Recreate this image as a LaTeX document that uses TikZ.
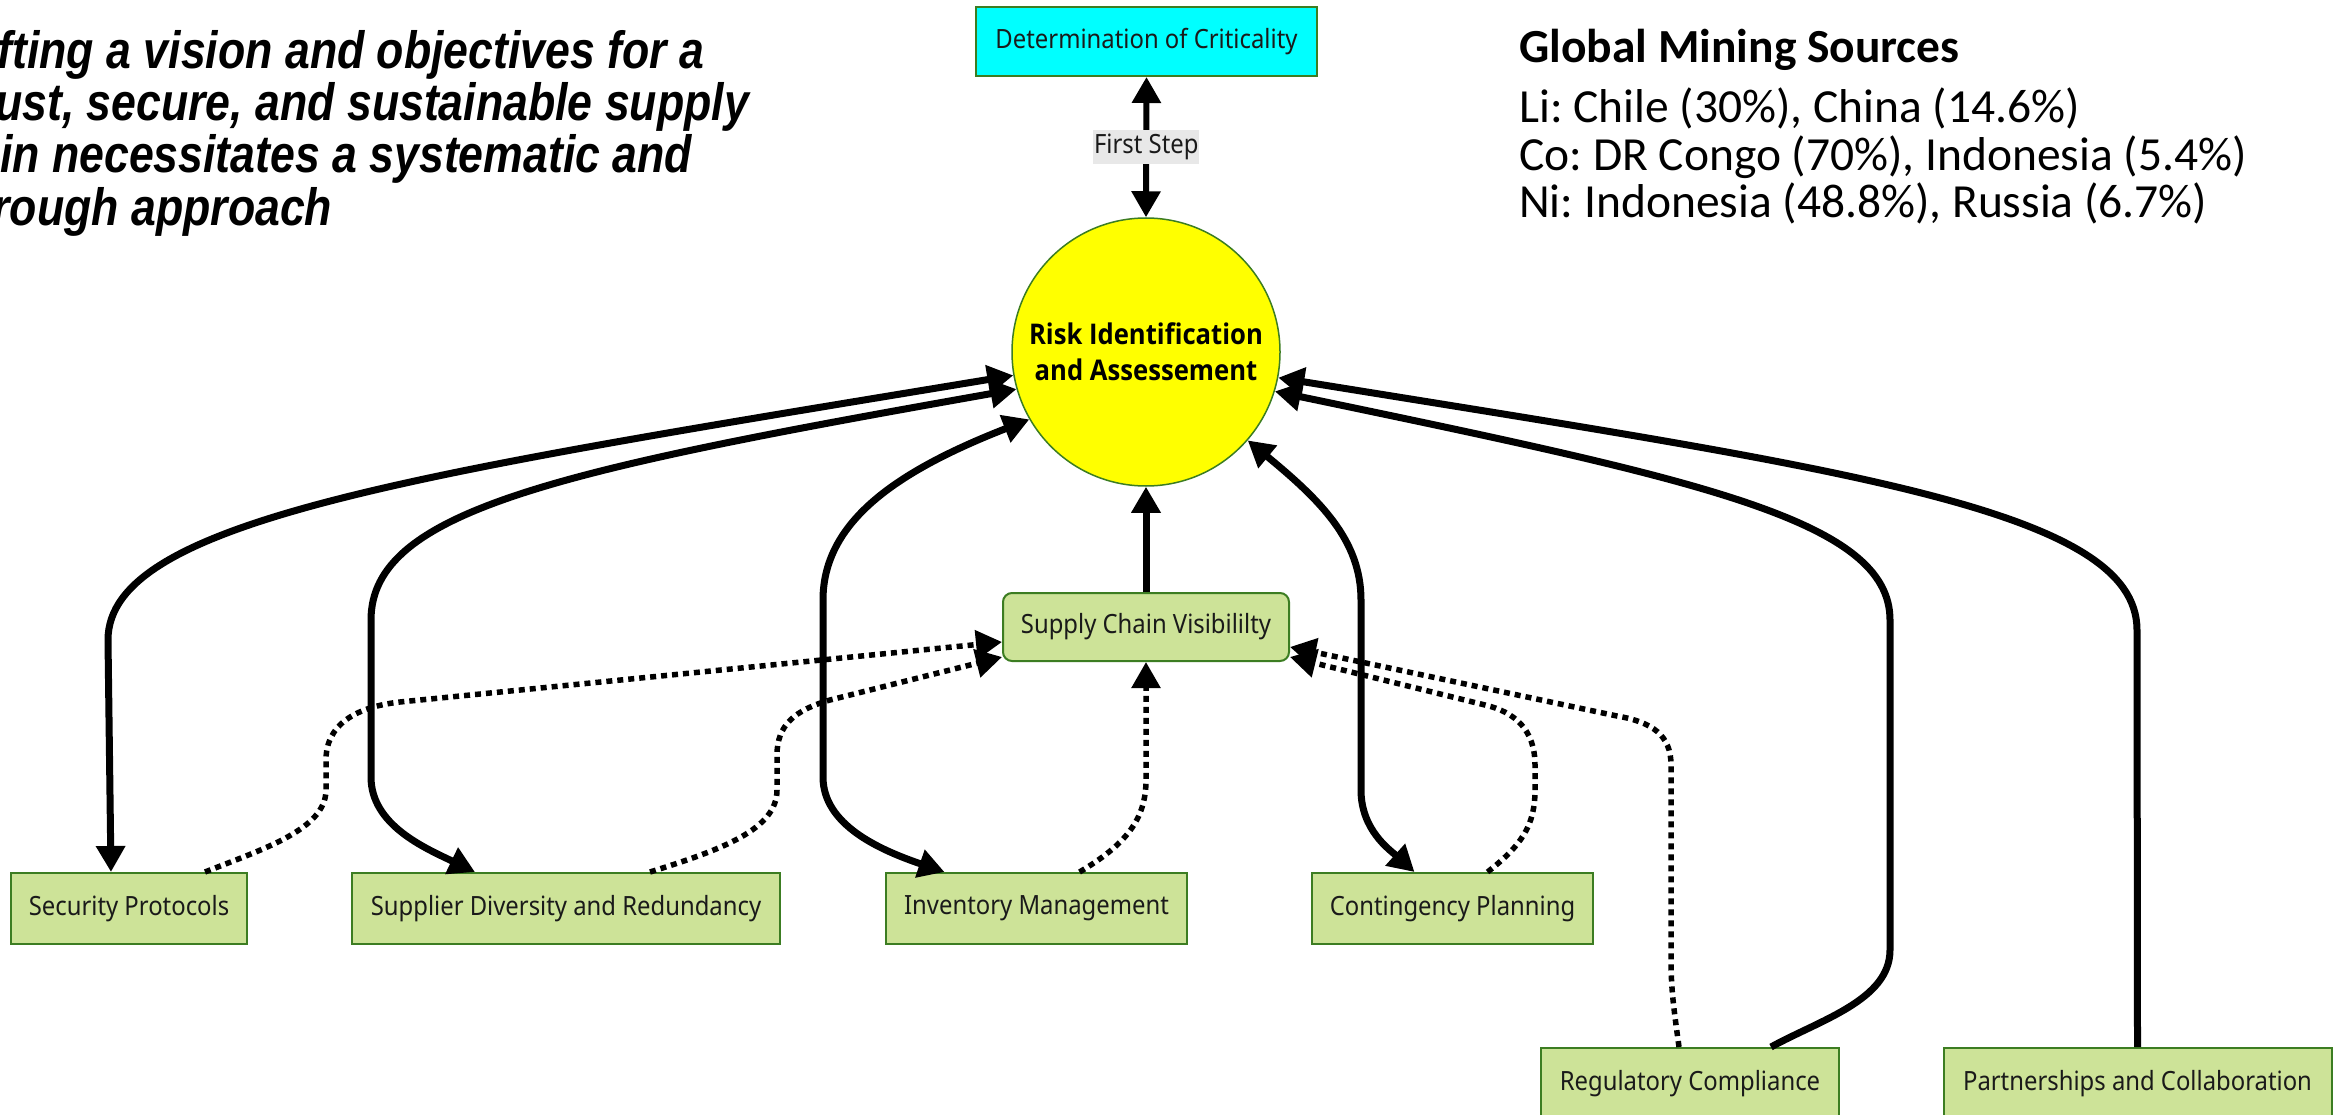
\documentclass[tikz,border=0pt]{standalone}
\usepackage{fontspec}
\setmainfont{Noto Sans}
\newfontfamily\boxfont[FakeStretch=0.9]{Noto Sans}
\newfontfamily\boldboxfont[FakeStretch=0.9]{Open Sans}
\newfontfamily\calfont{Carlito}
\newfontfamily\ttlfont[FakeStretch=0.85]{Liberation Sans}
\usetikzlibrary{arrows.meta,calc}
\definecolor{boxfill}{HTML}{CDE398}
\definecolor{boxline}{HTML}{3C7D22}
\definecolor{txt}{HTML}{1A1A1A}
\definecolor{lblbg}{HTML}{E8E8E8}
\definecolor{detcyan}{RGB}{0,255,255}
\definecolor{riayellow}{RGB}{255,255,0}
\frenchspacing
\begin{document}
\begin{tikzpicture}[x=1pt,y=-1pt,
  >={Triangle[length=26pt,width=28pt]},
  box/.style={draw=boxline,line width=2pt,fill=boxfill,inner sep=0pt,text=txt,
    font=\boxfont\fontsize{26.5}{32}\selectfont},
  conn/.style={line width=7pt,draw=black},
  dotconn/.style={line width=5.5pt,draw=black,dash pattern=on 6pt off 5pt},
  ttl/.style={anchor=base west,inner sep=0pt,font=\ttlfont\bfseries\itshape\fontsize{52.5}{52}\selectfont},
  gms/.style={anchor=base west,inner sep=0pt,font=\calfont\fontsize{47.5}{48}\selectfont},
]
\useasboundingbox (0,0) rectangle (2343,1115);
\fill[white] (0,0) rectangle (2343,1115);

% title text
\node[ttl] (t1) at (-77,69) {Crafting a vision and objectives for a};
\node[ttl] (t2) at (-77,121) {robust, secure, and sustainable supply};
\node[ttl] (t3) at (-77,173) {chain necessitates a systematic and};
\node[ttl] (t4) at (-77,226) {thorough approach};

% mining sources
\node[gms,font=\calfont\bfseries\fontsize{47.5}{48}\selectfont] (g0) at (1519,63) {Global Mining Sources};
\node[gms] (g1) at (1519,123) {Li: Chile (30\%), China (14.6\%)};
\node[gms] (g2) at (1519,171) {Co: DR Congo (70\%), Indonesia (5.4\%)};
\node[gms] (g3) at (1519,218) {Ni: Indonesia (48.8\%), Russia (6.7\%)};

% nodes
\node[box,fill=detcyan,minimum width=341pt,minimum height=69pt] (det) at (1146.5,41.5) {Determination of Criticality};
\node[circle,draw=boxline,line width=1.5pt,fill=riayellow,minimum size=268pt,inner sep=0pt,
  align=center,text=black,font=\boldboxfont\bfseries\fontsize{28.5}{36}\selectfont] (ria) at (1146,352)
  {Risk Identification\\and Assessement};
\node[box,rounded corners=9pt,minimum width=286pt,minimum height=68pt] (scv) at (1146,627) {Supply Chain Visibililty};
\node[box,minimum width=236pt,minimum height=71pt] (sp) at (129,908.5) {Security Protocols};
\node[box,minimum width=428pt,minimum height=71pt] (sd) at (566,908.5) {Supplier Diversity and Redundancy};
\node[box,minimum width=301pt,minimum height=71pt] (im) at (1036.5,908.5) {Inventory Management};
\node[box,minimum width=281pt,minimum height=71pt] (cp) at (1452.5,908.5) {Contingency Planning};
\node[box,minimum width=298pt,minimum height=71pt] (rc) at (1690,1083.5) {Regulatory Compliance};
\node[box,minimum width=388pt,minimum height=71pt] (pc) at (2137.5,1083.5) {Partnerships and Collaboration};

% first step
\draw[line width=6pt,<->] (ria.north) -- (det.south)
  node[midway,fill=lblbg,inner xsep=1pt,inner ysep=4pt,text=txt,font=\boxfont\fontsize{26.5}{32}\selectfont] (fs) {First Step};

% solid connectors
\draw[conn,<->] (ria.190) .. controls (416,474) and (108,520) .. (108,640) -- ([xshift=-18pt]sp.north);
\draw[conn,<->] (ria.196) .. controls (560,470) and (371,510) .. (371,620) -- (371,777)
  .. controls (371,825) and (425,848) .. ([xshift=-91pt]sd.north);
\draw[conn,<->] (ria.210) .. controls (900,470) and (823,520) .. (823,600) -- (823,777)
  .. controls (823,825) and (880,850) .. ([xshift=-92pt]im.north);
\draw[conn,->] (scv.north) -- (ria.south);
\draw[conn,<->] (ria.-41) .. controls (1320,500) and (1361,540) .. (1361,600) -- (1361,790)
  .. controls (1361,830) and (1390,850) .. ([xshift=-38pt]cp.north);
\draw[conn,<-] (ria.-17) .. controls (1700,480) and (1890,520) .. (1890,620) -- (1890,950)
  .. controls (1890,1000) and (1820,1020) .. ([xshift=81pt]rc.north);
\draw[conn,<-] (ria.-11) .. controls (1850,470) and (2137,510) .. (2137,630) -- (pc.north);

% dotted connectors
\draw[dotconn,->] ([xshift=76pt]sp.north) .. controls (260,850) and (326,830) .. (326,790) -- (326,760)
  .. controls (326,725) and (355,707) .. (400,702) -- ([yshift=-15pt]scv.west);
\draw[dotconn,->] ([xshift=84pt]sd.north) .. controls (720,850) and (777,830) .. (777,790) -- (777,755)
  .. controls (777,725) and (795,710) .. (830,700) -- ([yshift=-30pt]scv.west);
\draw[dotconn,->] ([xshift=43pt]im.north) .. controls (1125,845) and (1146,820) .. (1146,780) -- (scv.south);
\draw[dotconn,->] ([xshift=35pt]cp.north) .. controls (1522,845) and (1535,825) .. (1535,790) -- (1535,765)
  .. controls (1535,730) and (1515,712) .. (1485,705) -- ([yshift=-30pt]scv.east);
\draw[dotconn,->] ([xshift=-11pt]rc.north) .. controls (1674,1010) and (1671,990) .. (1671,960) -- (1671,765)
  .. controls (1671,735) and (1652,722) .. (1617,716) -- ([yshift=-20pt]scv.east);
\end{tikzpicture}
\end{document}
